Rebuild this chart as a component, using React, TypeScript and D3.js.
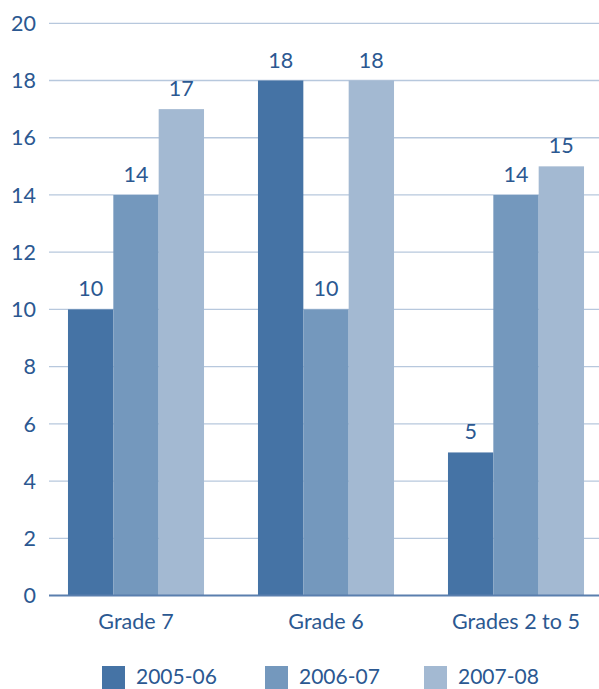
import React from "react";
import * as d3 from "d3";

const categories = ["Grade 7", "Grade 6", "Grades 2 to 5"];
const seriesNames = ["2005-06", "2006-07", "2007-08"];
const values2005 = [10, 18, 5];
const values2006 = [14, 10, 14];
const values2007 = [17, 18, 15];
const yTicks = [0, 2, 4, 6, 8, 10, 12, 14, 16, 18, 20];

const colors = ["#4573a5", "#7498bd", "#a3b9d2"];
const textColor = "#2b5891";
const font = "Lato, 'Open Sans', sans-serif";

export default function App() {
  const W = 599, H = 689;
  const series = [values2005, values2006, values2007];
  const y = d3.scaleLinear().domain([0, 20]).range([595.5, 23.3]);
  const x0 = d3.scaleBand().domain(categories).range([41, 611]).paddingInner(0.284).paddingOuter(0.142);
  const x1 = d3.scaleBand().domain(seriesNames).range([0, x0.bandwidth()]);
  const gridLeft = 49;

  const legendX = [102, 265, 424];

  return (
    <svg width={W} height={H} style={{ position: "absolute", left: 0, top: 0 }} fontFamily={font}>
      {yTicks.map((t) => (
        <g key={t}>
          {t > 0 && (
            <line x1={gridLeft} x2={W} y1={y(t)} y2={y(t)} stroke="#b7c8dd" strokeWidth={1.3} />
          )}
          <text x={36} y={y(t)} dy="0.36em" textAnchor="end" fontSize={21.5} fill={textColor}>
            {t}
          </text>
        </g>
      ))}
      {categories.map((c, ci) => (
        <g key={c} transform={`translate(${x0(c)},0)`}>
          {seriesNames.map((s, si) => {
            const v = series[si][ci];
            return (
              <g key={s}>
                <rect x={x1(s)} y={y(v)} width={x1.bandwidth()} height={y(0) - y(v)} fill={colors[si]} />
                <text
                  x={(x1(s) as number) + x1.bandwidth() / 2}
                  y={y(v) - 13}
                  textAnchor="middle"
                  fontSize={21.5}
                  fill={textColor}
                >
                  {v}
                </text>
              </g>
            );
          })}
          <text x={x0.bandwidth() / 2} y={628.5} textAnchor="middle" fontSize={21.5} fill={textColor}>
            {c}
          </text>
        </g>
      ))}
      <line x1={gridLeft} x2={W} y1={y(0)} y2={y(0)} stroke="#5a7fae" strokeWidth={2} />
      {seriesNames.map((s, i) => (
        <g key={s}>
          <rect x={legendX[i]} y={666} width={23} height={23} fill={colors[i]} />
          <text x={legendX[i] + 34} y={683.5} fontSize={21} fill={textColor}>
            {s}
          </text>
        </g>
      ))}
    </svg>
  );
}
